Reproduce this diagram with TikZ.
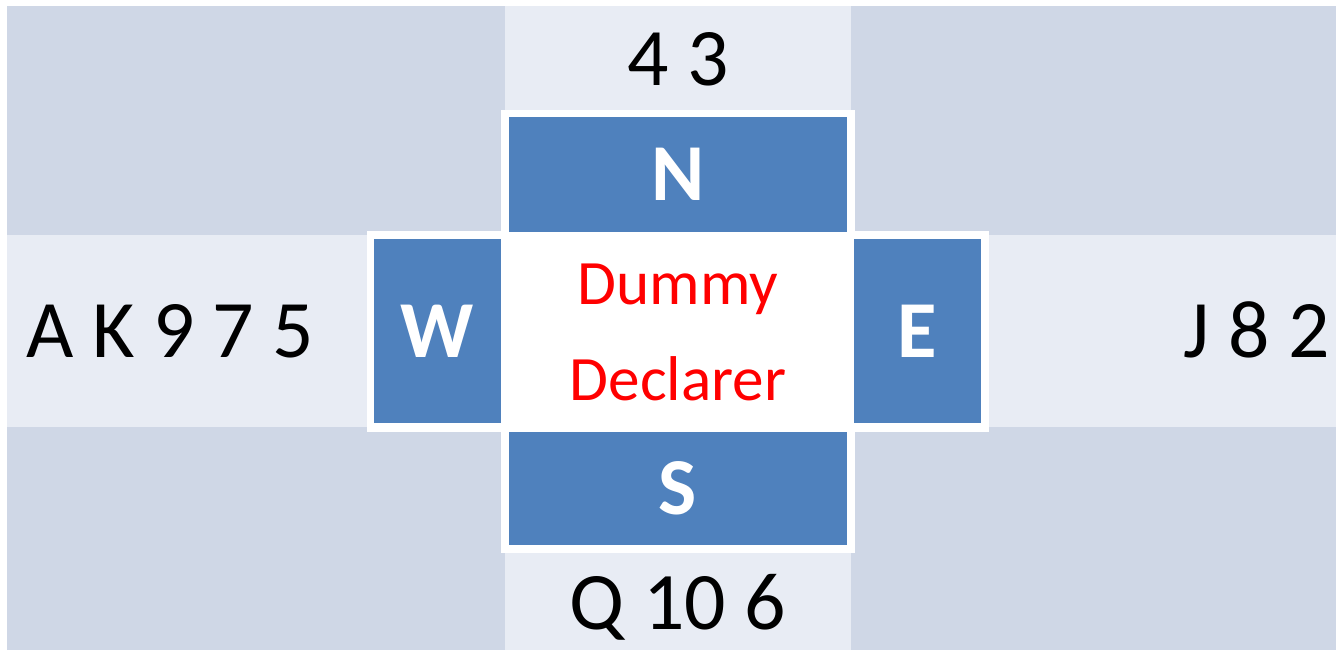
\documentclass[tikz,border=0pt]{standalone}
\usepackage{fontspec}
\setmainfont{Carlito}
\definecolor{cellDark}{HTML}{CFD7E6}
\definecolor{cellLight}{HTML}{E8ECF4}
\definecolor{seat}{HTML}{4F81BD}
\definecolor{role}{HTML}{FF0000}

\begin{document}
\begin{tikzpicture}[x=0.02cm,y=-0.02cm,
    hand/.style={font=\fontsize{46.5}{54}\selectfont,text=black,inner sep=0pt},
    seatbox/.style={fill=seat,text=white,inner sep=0pt,
      font=\fontsize{46}{54}\selectfont\bfseries},
    rolebox/.style={text=role,align=center,inner sep=0pt,
      font=\fontsize{36}{55}\selectfont}]
  \useasboundingbox (0,0) rectangle (1336,650);

  % Table cloth: dark corners, light cross.
  \fill[cellDark] (7,6) rectangle (1336,650);
  \fill[cellLight] (505,6) rectangle (851,650);
  \fill[cellLight] (7,235) rectangle (1336,427);

  % White cross behind the seats.
  \fill[white] (501,110) rectangle (855,553);
  \fill[white] (367,231) rectangle (989,432);

  \node[seatbox,minimum width=6.76cm,minimum height=2.3cm] (north) at (678,174.5) {N};
  \node[seatbox,minimum width=6.76cm,minimum height=2.26cm] (south) at (678,488.5) {S};
  \node[seatbox,minimum width=2.54cm,minimum height=3.68cm] (west) at (437.5,331) {W};
  \node[seatbox,minimum width=2.54cm,minimum height=3.68cm] (east) at (917.5,331) {E};

  \node[rolebox] (roles) at (678,332.5) {Dummy\\Declarer};

  % The four hands.
  \node[hand,anchor=base] (handN) at (678,85) {4 3};
  \node[hand,anchor=base] (handS) at (678,629) {Q 10 6};
  \node[hand,anchor=base west] (handW) at (26,357) {A K 9 7 5};
  \node[hand,anchor=base east] (handE) at (1330,357) {J 8 2};
\end{tikzpicture}
\end{document}
